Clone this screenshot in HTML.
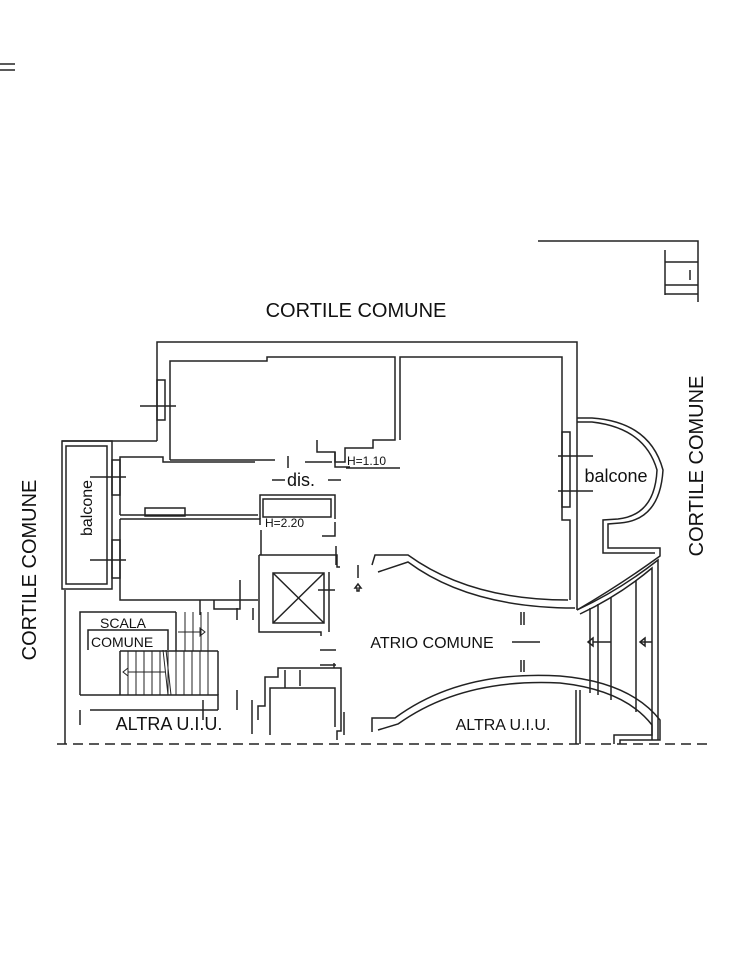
<!DOCTYPE html>
<html><head><meta charset="utf-8"><style>
html,body{margin:0;padding:0;background:#fff;}
svg{display:block;}
text{font-family:"Liberation Sans",sans-serif;fill:#111;}
</style></head><body>
<svg width="750" height="967" viewBox="0 0 750 967" xmlns="http://www.w3.org/2000/svg">
<g fill="none" stroke="#222" stroke-width="1.5">
<line x1="0" y1="64" x2="15" y2="64"/><line x1="0" y1="70" x2="15" y2="70"/>
<polyline points="538,241 698,241 698,302"/>
<line x1="665" y1="250" x2="665" y2="295"/>
<line x1="665" y1="262" x2="698" y2="262"/>
<line x1="665" y1="285" x2="698" y2="285"/>
<line x1="665" y1="294" x2="698" y2="294"/>
<line x1="690" y1="270" x2="690" y2="280"/>
<polyline points="157,441 157,342 577,342 577,610"/>
<polyline points="62,441 157,441"/>
<rect x="62" y="441" width="50" height="148"/>
<rect x="66" y="446" width="41" height="138"/>
<polyline points="170,460 170,361 267,361 267,357 395,357 395,440 373,440 373,448 345,448 345,462 335,462 335,452 317,452 317,440"/>
<polyline points="170,460 275,460"/>
<polyline points="305,462 332,462"/>
<polyline points="335,452 335,467 350,467"/>
<line x1="346" y1="468" x2="400" y2="468"/>
<polyline points="400,440 400,357 562,357 562,520 570,520 570,600"/>
<path d="M 372,565 L 375,555 L 408,555 Q 470,600 568,600"/>
<path d="M 378,572 L 408,562 Q 470,608 575,608"/>
<rect x="157" y="380" width="8" height="40"/><line x1="140" y1="406" x2="176" y2="406"/>
<rect x="112" y="460" width="8" height="35"/><line x1="90" y1="477" x2="126" y2="477"/>
<rect x="112" y="540" width="8" height="38"/><line x1="90" y1="560" x2="126" y2="560"/>
<rect x="562" y="432" width="8" height="75"/>
<line x1="558" y1="456" x2="593" y2="456"/><line x1="558" y1="491" x2="593" y2="491"/>
<polyline points="120,515 120,457 163,457 163,462 255,462"/>
<line x1="120" y1="515" x2="258" y2="515"/>
<rect x="145" y="508" width="40" height="8"/>
<polyline points="120,519 260,519 260,525"/>
<polyline points="120,519 120,600 258,600"/>
<line x1="261" y1="530" x2="261" y2="555"/>
<polyline points="260,519 260,495 335,495 335,519"/>
<rect x="263" y="499" width="68" height="18"/>
<polyline points="322,536 335,536 335,522"/>
<line x1="336" y1="546" x2="336" y2="565"/>
<polyline points="259,555 337,555 337,567 340,567"/>
<polyline points="259,555 259,632 321,632 321,636"/>
<rect x="273" y="573" width="51" height="50"/>
<line x1="273" y1="573" x2="324" y2="623"/><line x1="324" y1="573" x2="273" y2="623"/>
<line x1="318" y1="590" x2="335" y2="590"/>
<line x1="329" y1="572" x2="329" y2="632"/>
<line x1="358" y1="565" x2="358" y2="578"/>
<polygon points="358,584 355,588 357,588 357,591 359,591 359,588 361,588"/>
<polyline points="214,600 214,609 240,609 240,580"/>
<line x1="200" y1="600" x2="200" y2="615"/>
<line x1="237" y1="608" x2="237" y2="620"/>
<line x1="253" y1="608" x2="253" y2="620"/>
<polyline points="65,744 65,590"/>
<polyline points="80,695 80,612 176,612"/>
<polyline points="80,695 218,695 218,710"/>
<polyline points="88,650 88,630 168,630 168,650"/>
<line x1="176" y1="612" x2="176" y2="651"/>
<line x1="90" y1="710" x2="218" y2="710"/>
<line x1="80" y1="710" x2="80" y2="725"/>
<line x1="176" y1="651" x2="218" y2="651"/>
<line x1="218" y1="651" x2="218" y2="695"/>
<line x1="120" y1="651" x2="176" y2="651"/>
<line x1="120" y1="651" x2="120" y2="695"/>
<g stroke-width="1">
<line x1="185" y1="612" x2="185" y2="651"/><line x1="193" y1="612" x2="193" y2="651"/><line x1="201" y1="612" x2="201" y2="651"/><line x1="208" y1="612" x2="208" y2="651"/>
<line x1="128" y1="651" x2="128" y2="695"/><line x1="136" y1="651" x2="136" y2="695"/><line x1="144" y1="651" x2="144" y2="695"/><line x1="152" y1="651" x2="152" y2="695"/><line x1="160" y1="651" x2="160" y2="695"/><line x1="168" y1="651" x2="168" y2="695"/><line x1="176" y1="651" x2="176" y2="695"/><line x1="184" y1="651" x2="184" y2="695"/><line x1="192" y1="651" x2="192" y2="695"/><line x1="200" y1="651" x2="200" y2="695"/><line x1="208" y1="651" x2="208" y2="695"/>
<line x1="178" y1="632" x2="200" y2="632"/><polygon points="200,628 205,632 200,636"/>
<line x1="128" y1="672" x2="165" y2="672"/><polygon points="128,668 123,672 128,676"/>
<line x1="163" y1="650" x2="168" y2="695"/><line x1="166" y1="650" x2="171" y2="695"/>
</g>
<line x1="237" y1="690" x2="237" y2="710"/>
<line x1="203" y1="700" x2="203" y2="720"/>
<polyline points="258,720 258,706 265,706 265,677 278,677 278,668 341,668 341,731 337,731 337,740"/>
<polyline points="270,735 270,688 335,688 335,727"/>
<line x1="300" y1="670" x2="300" y2="686"/><line x1="285" y1="670" x2="285" y2="688"/>
<line x1="252" y1="700" x2="252" y2="734"/>
<line x1="334" y1="663" x2="334" y2="668"/>
<line x1="320" y1="650" x2="336" y2="650"/>
<line x1="320" y1="665" x2="336" y2="665"/>
<line x1="344" y1="712" x2="344" y2="735"/>
<line x1="512" y1="642" x2="540" y2="642"/>
<line x1="521" y1="612" x2="521" y2="625"/><line x1="524" y1="612" x2="524" y2="625"/>
<line x1="521" y1="660" x2="521" y2="672"/><line x1="524" y1="660" x2="524" y2="672"/>
<path d="M 372,732 L 372,718 L 395,718 Q 460,670 560,676 Q 630,682 660,720 L 660,740 L 620,740 L 620,744"/>
<path d="M 378,730 L 398,724 Q 462,678 560,683 Q 625,690 652,725 L 652,735 L 614,735 L 614,744"/>
<polyline points="576,744 576,690"/><polyline points="580,744 580,690"/>
<path d="M 577,418 L 592,418 Q 650,422 663,470 Q 660,520 620,523 L 608,524 L 608,548 L 660,548 L 660,556 Q 620,585 577,610"/>
<path d="M 577,422 L 592,422 Q 645,428 657,470 Q 655,515 618,519 L 603,520 L 603,553 L 655,553"/>
<path d="M 577,610 Q 620,590 658,560 L 658,740"/>
<path d="M 580,614 Q 620,595 652,568 L 652,740"/>
<line x1="590" y1="608" x2="590" y2="693"/><line x1="598" y1="604" x2="598" y2="695"/>
<line x1="611" y1="597" x2="611" y2="700"/><line x1="636" y1="580" x2="636" y2="712"/>
<line x1="593" y1="642" x2="611" y2="642"/><polygon points="593,638 588,642 593,646"/>
<line x1="640" y1="642" x2="652" y2="642"/><polygon points="645,638 640,642 645,646"/>
<line x1="57" y1="744" x2="712" y2="744" stroke-dasharray="10,6"/>
<line x1="272" y1="480" x2="285" y2="480"/><line x1="328" y1="480" x2="341" y2="480"/>
<line x1="288" y1="456" x2="288" y2="468"/>
</g>
<text x="356" y="317" font-size="20" text-anchor="middle">CORTILE COMUNE</text>
<text transform="translate(36,570) rotate(-90)" font-size="20" text-anchor="middle">CORTILE COMUNE</text>
<text transform="translate(703,466) rotate(-90)" font-size="20" text-anchor="middle">CORTILE COMUNE</text>
<text transform="translate(92,508) rotate(-90)" font-size="16" text-anchor="middle">balcone</text>
<text x="616" y="482" font-size="18" text-anchor="middle">balcone</text>
<text x="301" y="486" font-size="18" text-anchor="middle">dis.</text>
<text x="347" y="465" font-size="12">H=1.10</text>
<text x="265" y="527" font-size="12">H=2.20</text>
<text x="100" y="628" font-size="14">SCALA</text>
<text x="91" y="647" font-size="14">COMUNE</text>
<text x="432" y="648" font-size="16" text-anchor="middle">ATRIO COMUNE</text>
<text x="169" y="730" font-size="18" text-anchor="middle">ALTRA U.I.U.</text>
<text x="503" y="730" font-size="16" text-anchor="middle">ALTRA U.I.U.</text>
</svg>
</body></html>
